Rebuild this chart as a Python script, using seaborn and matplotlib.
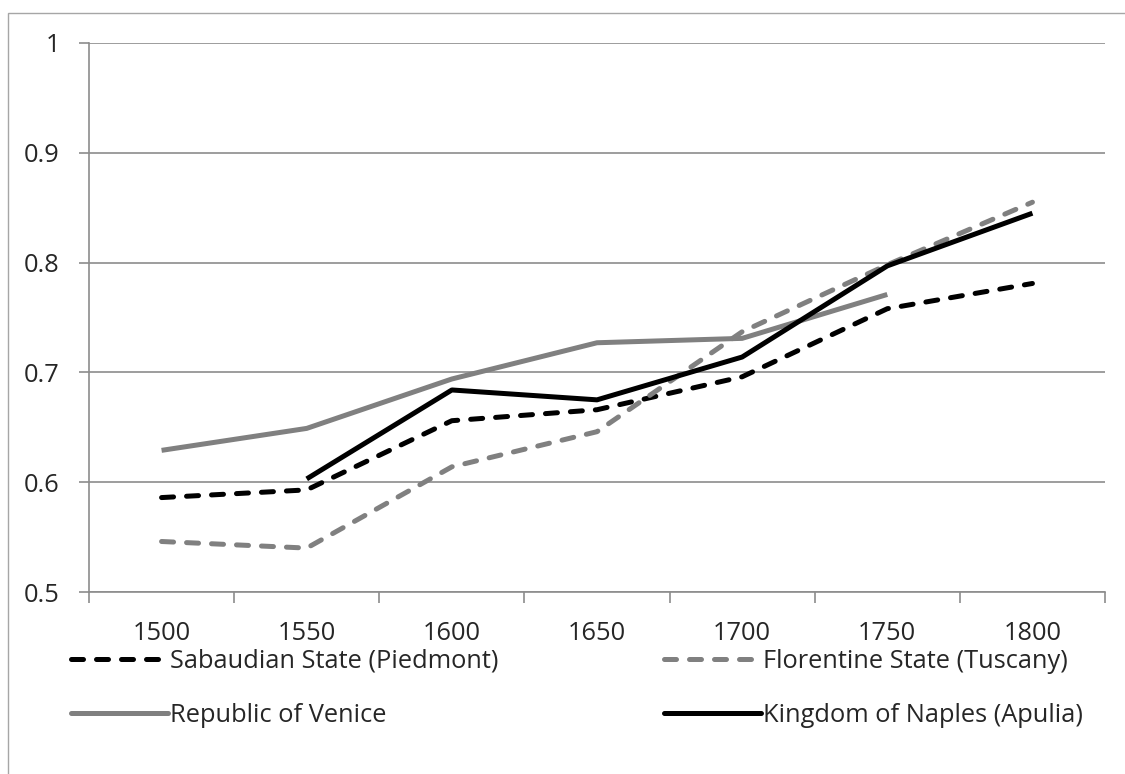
"""
Line chart of four Italian states, 1500-1800, Excel-like look.
"""

import numpy as np
import pandas as pd
import seaborn as sns
import matplotlib.pyplot as plt
from matplotlib.lines import Line2D
from matplotlib.patches import Rectangle

# Values
years = [1500, 1550, 1600, 1650, 1700, 1750, 1800]
sabaudian = [0.586, 0.593, 0.656, 0.666, 0.696, 0.758, 0.781]
florentine = [0.546, 0.540, 0.614, 0.646, 0.737, 0.798, 0.855]
venice = [0.629, 0.649, 0.694, 0.727, 0.731, 0.771, np.nan]
naples = [np.nan, 0.603, 0.684, 0.675, 0.714, 0.797, 0.845]

names = ['Sabaudian State (Piedmont)', 'Florentine State (Tuscany)',
         'Republic of Venice', 'Kingdom of Naples (Apulia)']
series = [sabaudian, florentine, venice, naples]

df = pd.concat([pd.DataFrame({'year': years, 'value': v, 'state': n})
                for n, v in zip(names, series)]).dropna()

GRAY = '#808080'
GRID = '#8c8c8c'
DASH = (2.4, 2.6)
LW = 3.6
palette = {names[0]: 'black', names[1]: GRAY, names[2]: GRAY, names[3]: 'black'}
dashes = {names[0]: DASH, names[1]: DASH, names[2]: '', names[3]: ''}

sns.set_style('white')
plt.rcParams['font.family'] = ['Open Sans', 'DejaVu Sans']
FS = 18.3

fig = plt.figure(figsize=(11.25, 7.74), dpi=100)
ax = fig.add_axes([89 / 1125, 1 - 592 / 774, (1105 - 89) / 1125, (592 - 43) / 774])

sns.lineplot(data=df, x='year', y='value', hue='state', style='state',
             palette=palette, dashes=dashes, linewidth=LW, legend=False, ax=ax,
             hue_order=names, style_order=names)
for line in ax.lines:
    line.set_dash_capstyle('round')
    line.set_solid_capstyle('butt')

ax.set_xlim(1475, 1825)
ax.set_ylim(0.5, 1.0)
ax.set_yticks([0.5, 0.6, 0.7, 0.8, 0.9, 1.0])
ax.set_yticklabels(['0.5', '0.6', '0.7', '0.8', '0.9', '1'], fontsize=FS)
ax.yaxis.grid(True, color=GRID, linewidth=1.2)
ax.set_axisbelow(True)

# category-style x axis: ticks between categories, labels at centres
ax.set_xticks(np.arange(1475, 1826, 50))
ax.set_xticklabels([])
ax.set_xticks(years, minor=True)
ax.set_xticklabels([str(y) for y in years], minor=True, fontsize=FS)
ax.tick_params(axis='x', which='major', direction='out', length=8,
               width=1.2, color=GRID, bottom=True)
ax.tick_params(axis='x', which='minor', length=0, pad=21, bottom=True)
ax.tick_params(axis='y', direction='out', length=7, width=1.2, color=GRID,
               pad=14, left=True)
ax.set_xlabel('')
ax.set_ylabel('')

for side in ['top', 'right']:
    ax.spines[side].set_visible(False)
for side in ['left', 'bottom']:
    ax.spines[side].set_color(GRID)
    ax.spines[side].set_linewidth(1.2)

# legend: two columns placed separately
handles = [Line2D([], [], color=palette[n], linewidth=LW,
                  dashes=dashes[n] if dashes[n] else (None, None),
                  dash_capstyle='round') for n in names]
for handle in handles[2:]:
    handle.set_linestyle('-')
cols = [([handles[0], handles[2]], [names[0], names[2]], 71),
        ([handles[1], handles[3]], [names[1], names[3]], 664)]
for hs, ls, x0 in cols:
    fig.legend(hs, ls, loc='upper left', bbox_to_anchor=(x0 / 1125, 1 - 649 / 774),
               frameon=False, fontsize=FS, handlelength=3.8, handletextpad=0.08,
               labelspacing=1.15, borderaxespad=0, borderpad=0)

fig.patches.append(Rectangle((8 / 1125, -0.1), 1.2, 1.1 - 13 / 774,
                             transform=fig.transFigure, fill=False,
                             edgecolor='#a6a6a6', linewidth=1.0))

fig.savefig('out.png', dpi=100)
